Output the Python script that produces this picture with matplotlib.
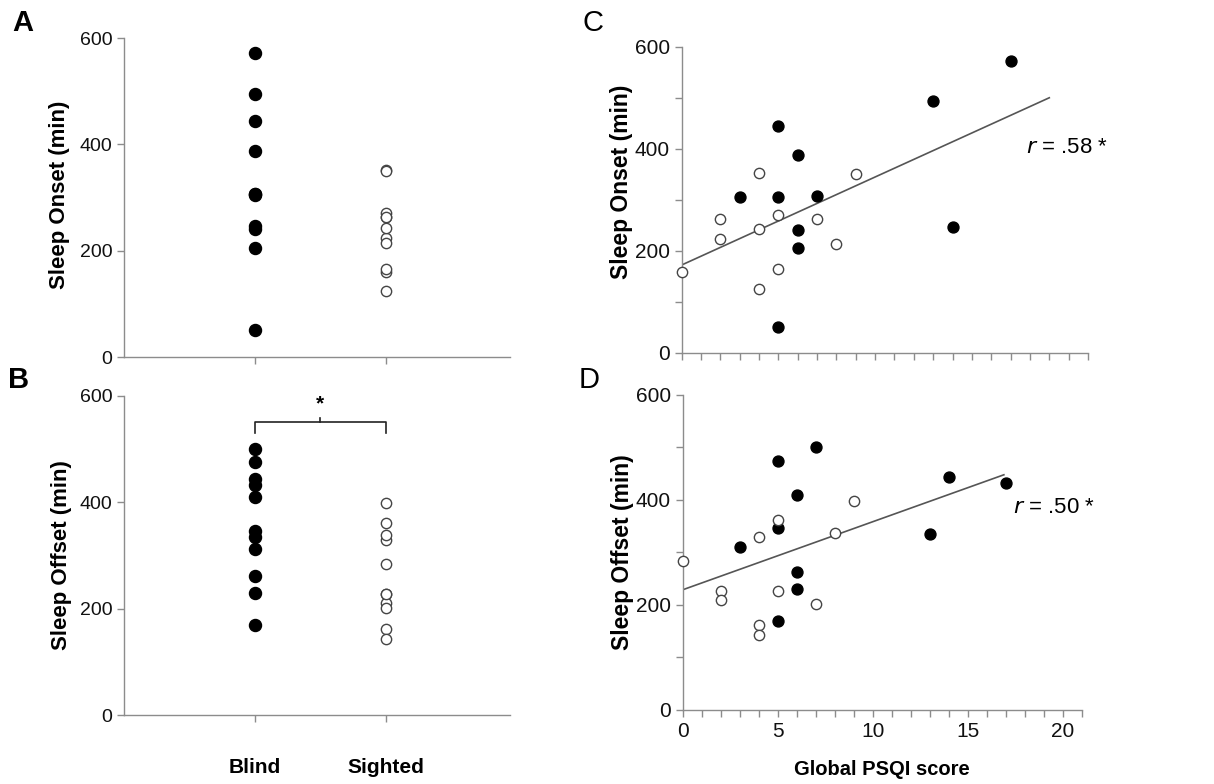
import numpy as np
import matplotlib
matplotlib.use("Agg")
import matplotlib.pyplot as plt

plt.rcParams["font.family"] = ["Liberation Sans", "DejaVu Sans"]

# sleep onset / offset (min) and global PSQI score for each participant
blind_psqi = [3, 5, 5, 5, 6, 6, 6, 7, 13, 14, 17]
blind_onset = [305, 444, 306, 51, 388, 240, 205, 307, 494, 247, 572]
blind_offset = [311, 475, 346, 170, 409, 262, 230, 500, 335, 443, 432]

sighted_psqi = [0, 2, 2, 4, 4, 4, 5, 5, 7, 8, 9]
sighted_onset = [159, 263, 223, 352, 243, 125, 270, 165, 263, 214, 350]
sighted_offset = [284, 227, 210, 329, 162, 143, 361, 227, 201, 338, 398]

groups = ["Blind", "Sighted"]

# regression lines (intercept, slope, x range) and correlations
onset_fit = (172, 17.26, 19.0)
offset_fit = (229, 12.96, 16.9)
onset_r = ".58"
offset_r = ".50"

spine_col = "#8c8c8c"
open_col = "#444444"

fig = plt.figure(figsize=(12.14, 7.84), dpi=100)

ax_a = fig.add_axes([0.1021, 0.5446, 0.318, 0.4069])
ax_b = fig.add_axes([0.1021, 0.0880, 0.318, 0.4073])
ax_c = fig.add_axes([0.5615, 0.5501, 0.3347, 0.3903])
ax_d = fig.add_axes([0.5624, 0.0944, 0.3287, 0.4018])


def style_axis(ax, size):
    for side in ["top", "right"]:
        ax.spines[side].set_visible(False)
    for side in ["left", "bottom"]:
        ax.spines[side].set_color(spine_col)
        ax.spines[side].set_linewidth(1.0)
    ax.set_ylim(0, 600)
    ax.set_yticks([0, 200, 400, 600])
    ax.tick_params(axis="both", colors=spine_col, labelcolor="#111111",
                   labelsize=size, length=5, width=1.0)


def place_ylabel(ax, x, y):
    ax.yaxis.set_label_coords(x, y)
    ax.yaxis.label.set_va("center")


def group_panel(ax, blind, sighted, ylabel):
    style_axis(ax, 14)
    ax.scatter([1] * len(blind), blind, s=75, color="black", zorder=3,
               clip_on=False)
    ax.scatter([2] * len(sighted), sighted, s=55, facecolors="white",
               edgecolors=open_col, linewidths=1.0, zorder=3, clip_on=False)
    ax.set_xlim(0, 2.95)
    ax.set_xticks([1, 2])
    ax.set_xticklabels([])
    ax.set_ylabel(ylabel, fontsize=16, fontweight="bold")


def psqi_panel(ax, blind, sighted, fit, r_text, r_pos, ylabel):
    style_axis(ax, 15)
    ax.set_yticks([100, 300, 500], minor=True)
    ax.set_xlim(0, 21)
    ax.set_xticks([0, 5, 10, 15, 20])
    ax.set_xticks(np.arange(0, 22, 1), minor=True)
    ax.tick_params(which="minor", colors=spine_col, length=5, width=1.0)
    ax.scatter(blind_psqi, blind, s=62, color="black", zorder=3,
               clip_on=False)
    ax.scatter(sighted_psqi, sighted, s=55, facecolors="white",
               edgecolors=open_col, linewidths=1.0, zorder=3, clip_on=False)
    b0, b1, xmax = fit
    xs = np.array([0, xmax])
    ax.plot(xs, b0 + b1 * xs, color="#555555", linewidth=1.2, zorder=2)
    ax.text(r_pos[0], r_pos[1], "$r$ = " + r_text + " *", fontsize=16,
            va="center", ha="left", clip_on=False)
    ax.set_ylabel(ylabel, fontsize=16.5, fontweight="bold")


group_panel(ax_a, blind_onset, sighted_onset, "Sleep Onset (min)")
group_panel(ax_b, blind_offset, sighted_offset, "Sleep Offset (min)")
place_ylabel(ax_a, -0.166, 0.51)
place_ylabel(ax_b, -0.161, 0.50)

# group labels under panel B
for gx, name in zip([1, 2], groups):
    ax_b.text(gx, -98, name, ha="center", va="center", fontsize=15,
              fontweight="bold", clip_on=False)

# significance bracket between the two groups
ax_b.plot([1, 1, 2, 2], [530, 551, 551, 530], color="#222222", lw=1.2)
ax_b.plot([1.5, 1.5], [551, 559], color="#222222", lw=1.2)
ax_b.text(1.5, 585, "*", ha="center", va="center", fontsize=15,
          fontweight="bold")

psqi_panel(ax_c, blind_onset, sighted_onset, onset_fit, onset_r,
           (17.8, 403), "Sleep Onset (min)")
ax_c.set_xticklabels([])
psqi_panel(ax_d, blind_offset, sighted_offset, offset_fit, offset_r,
           (17.4, 385), "Sleep Offset (min)")
place_ylabel(ax_c, -0.147, 0.558)
place_ylabel(ax_d, -0.150, 0.50)
ax_d.set_xlabel("Global PSQI score", fontsize=14.5, fontweight="bold",
                labelpad=14)

# panel letters
fig.text(0.0105, 0.971, "A", fontsize=21, fontweight="bold", va="center")
fig.text(0.0065, 0.515, "B", fontsize=21, fontweight="bold", va="center")
fig.text(0.480, 0.971, "C", fontsize=21, va="center")
fig.text(0.477, 0.515, "D", fontsize=21, va="center")

fig.savefig("out.png", dpi=100)
